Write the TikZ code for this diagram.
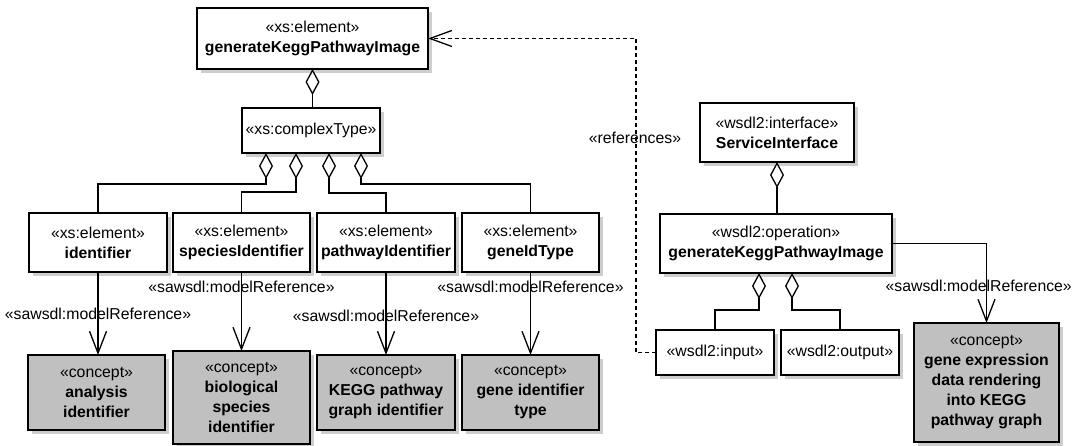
\documentclass[tikz,border=0pt]{standalone}
\usepackage{fontspec}
\setmainfont{Liberation Sans}
\usetikzlibrary{arrows.meta,shadows}
\definecolor{conceptgray}{RGB}{192,192,192}
\definecolor{shadowgray}{RGB}{205,205,205}
\begin{document}
\begin{tikzpicture}[x=1pt,y=-1pt,
  every node/.style={font=\fontsize{15.8}{20}\selectfont},
  umlbox/.style={draw, line width=1.3pt, fill=white, align=center,
    inner sep=0pt, outer sep=0pt,
    drop shadow={shadow xshift=4pt, shadow yshift=-4pt, fill=shadowgray, opacity=1}},
  conceptbox/.style={umlbox, fill=conceptgray},
  agg/.style={line width=1.3pt, {Diamond[fill=white,length=26pt,width=14pt]}-},
  modref/.style={line width=1.3pt, -{Straight Barb[length=22pt,width=17pt]}},
  dep/.style={line width=1.3pt, dash pattern=on 4pt off 3pt,
    -{Straight Barb[length=22pt,width=16pt]}},
  lbl/.style={inner sep=0pt}]
\useasboundingbox (0,0) rectangle (1073,446);

% XML schema side
\node[umlbox, minimum width=231pt, minimum height=61pt] (top) at (312.5,38.5)
  {«xs:element»\\\textbf{generateKeggPathwayImage}};
\node[umlbox, minimum width=138pt, minimum height=45pt] (ct) at (311,130.5)
  {«xs:complexType»};

\node[umlbox, minimum width=138pt, minimum height=59pt] (ident) at (98,242.5)
  {«xs:element»\\\textbf{identifier}};
\node[umlbox, minimum width=137pt, minimum height=59pt] (spec) at (241.5,242.5)
  {«xs:element»\\\textbf{speciesIdentifier}};
\node[umlbox, minimum width=138pt, minimum height=59pt] (pathid) at (386,242.5)
  {«xs:element»\\\textbf{pathwayIdentifier}};
\node[umlbox, minimum width=137pt, minimum height=59pt] (gene) at (530.5,242.5)
  {«xs:element»\\\textbf{geneIdType}};

\node[conceptbox, minimum width=137pt, minimum height=75pt] (anal) at (96.5,392.5)
  {«concept»\\\textbf{analysis}\\\textbf{identifier}};
\node[conceptbox, minimum width=137pt, minimum height=93pt] (bio) at (241.5,397.5)
  {«concept»\\\textbf{biological}\\\textbf{species}\\\textbf{identifier}};
\node[conceptbox, minimum width=138pt, minimum height=75pt] (kegg) at (386,392.5)
  {«concept»\\\textbf{KEGG pathway}\\\textbf{graph identifier}};
\node[conceptbox, minimum width=137pt, minimum height=75pt] (gid) at (530.5,392.5)
  {«concept»\\\textbf{gene identifier}\\\textbf{type}};

% WSDL side
\node[umlbox, minimum width=154pt, minimum height=59pt] (si) at (777,132.5)
  {«wsdl2:interface»\\\textbf{ServiceInterface}};
\node[umlbox, minimum width=232pt, minimum height=59pt] (op) at (776,243.5)
  {«wsdl2:operation»\\\textbf{generateKeggPathwayImage}};
\node[umlbox, minimum width=118pt, minimum height=45pt] (inp) at (715,352.5)
  {«wsdl2:input»};
\node[umlbox, minimum width=118pt, minimum height=45pt] (outp) at (840,352.5)
  {«wsdl2:output»};
\node[conceptbox, minimum width=145pt, minimum height=119pt] (big) at (986.5,382.5)
  {«concept»\\\textbf{gene expression}\\\textbf{data rendering}\\\textbf{into KEGG}\\\textbf{pathway graph}};

% aggregations
\draw[agg] (top.south) -- (top.south |- ct.north);
\draw[agg] ([xshift=-45pt]ct.south) -- ++(0,31) -| (ident.north);
\draw[agg] ([xshift=-15pt]ct.south) -- ++(0,39) -| (spec.north);
\draw[agg] ([xshift=18pt]ct.south) -- ++(0,40) -| (pathid.north);
\draw[agg] ([xshift=50pt]ct.south) -- ++(0,31) -| (gene.north);

\draw[agg] (si.south) -- (si.south |- op.north);
\draw[agg] ([xshift=-17pt]op.south) -- ++(0,37) -| (inp.north);
\draw[agg] ([xshift=16pt]op.south) -- ++(0,37) -| (outp.north);

% model references
\draw[modref] (ident.south) -- node[lbl, pos=0.5] {«sawsdl:modelReference»} (ident.south |- anal.north);
\draw[modref] (spec.south) -- node[lbl, pos=0.19] {«sawsdl:modelReference»} (spec.south |- bio.north);
\draw[modref] (pathid.south) -- node[lbl, pos=0.53] {«sawsdl:modelReference»} (pathid.south |- kegg.north);
\draw[modref] (gene.south) -- node[lbl, pos=0.18] {«sawsdl:modelReference»} (gene.south |- gid.north);
\draw[modref] (op.east) -| (big.north);
\node[lbl, anchor=east] (oplbl) at (1072,286) {«sawsdl:modelReference»};

% dependency from the input message to the schema element
\coordinate (bend) at (636,100);
\draw[dep] (inp.west) -| (bend) |- (top.east);
\node[lbl] (reflbl) at (635,138) {«references»};
\end{tikzpicture}
\end{document}
